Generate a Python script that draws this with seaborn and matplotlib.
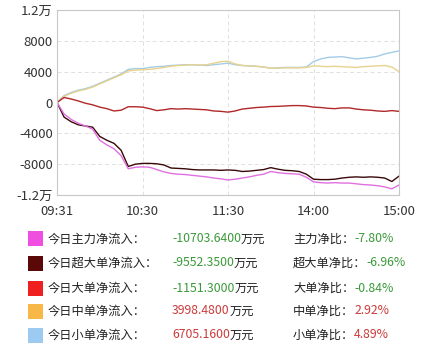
import numpy as np
import pandas as pd
import matplotlib
matplotlib.use("Agg")
import matplotlib.pyplot as plt
from matplotlib.patches import Rectangle
import seaborn as sns

sns.set_theme(style="white")
plt.rcParams['font.family'] = ['Noto Sans CJK SC', 'DejaVu Sans']

# ---- data (minutes since 09:31 trading start, 5-minute readings) ----
minutes = list(range(0, 241, 5))

small = [0, 900, 1300, 1600, 1800, 2100, 2500, 2900, 3300, 3700, 4300, 4400, 4400,
         4550, 4650, 4700, 4800, 4850, 4900, 4900, 4850, 4800, 4900, 5000, 5100,
         4900, 4800, 4750, 4700, 4600, 4450, 4500, 4550, 4550, 4550, 4600, 5300,
         5650, 5850, 5900, 5950, 5800, 5650, 5750, 5850, 6000, 6300, 6500, 6700]
medium = [0, 800, 1200, 1500, 1700, 2000, 2400, 2800, 3200, 3600, 4100, 4200, 4250,
          4300, 4400, 4550, 4700, 4800, 4850, 4900, 4850, 4900, 5100, 5300, 5350,
          5000, 4800, 4750, 4700, 4600, 4450, 4450, 4500, 4500, 4500, 4550, 4750,
          4700, 4650, 4700, 4650, 4600, 4550, 4650, 4700, 4750, 4800, 4600, 4000]
large = [0, 650, 450, 200, -100, -300, -600, -800, -1100, -1000, -550, -550, -600,
         -800, -1050, -950, -800, -850, -800, -850, -900, -950, -1100, -1150, -1250,
         -1100, -850, -750, -650, -600, -520, -500, -450, -400, -400, -450, -600,
         -650, -750, -800, -700, -700, -850, -950, -1000, -1100, -1150, -1050, -1150]
super_large = [0, -1900, -2500, -2900, -3050, -3200, -4400, -4900, -5300, -6200, -8300,
               -8000, -7900, -7900, -7950, -8100, -8500, -8550, -8600, -8700, -8750,
               -8750, -8750, -8800, -8750, -8800, -8950, -8900, -8800, -8700, -8450,
               -8650, -8800, -8850, -8950, -9300, -9950, -10000, -10000, -9950, -9800,
               -9700, -9650, -9700, -9650, -9700, -9800, -10250, -9550]
main_force = [0, -1500, -2200, -2700, -3050, -3450, -4900, -5500, -6000, -6900, -8600,
              -8400, -8350, -8400, -8700, -9000, -9200, -9300, -9350, -9450, -9550,
              -9650, -9800, -9900, -10050, -9950, -9800, -9650, -9450, -9300, -8950,
              -9100, -9200, -9250, -9300, -9700, -10300, -10400, -10450, -10400, -10450,
              -10450, -10550, -10650, -10700, -10800, -10950, -11200, -10700]

x_ticks = [0, 60, 120, 180, 240]
x_labels = ["09:31", "10:30", "11:30", "14:00", "15:00"]
y_ticks = [-12000, -8000, -4000, 0, 4000, 8000, 12000]
y_labels = ["-1.2万", "-8000", "-4000", "0", "4000", "8000", "1.2万"]

legend_labels = ["今日主力净流入：", "今日超大单净流入：", "今日大单净流入：",
                 "今日中单净流入：", "今日小单净流入："]
legend_values = ["-10703.6400", "-9552.3500", "-1151.3000", "3998.4800", "6705.1600"]
value_unit = "万元"
ratio_labels = ["主力净比：", "超大单净比：", "大单净比：", "中单净比：", "小单净比："]
ratio_values = ["-7.80%", "-6.96%", "-0.84%", "2.92%", "4.89%"]

series_names = ["主力", "超大单", "大单", "中单", "小单"]
series_data = [main_force, super_large, large, medium, small]
line_colors = ["#e070e0", "#3a0808", "#b02828", "#e8d28c", "#a4cce6"]
square_colors = ["#f04ee0", "#5a0808", "#ee2020", "#f8b848", "#9ccaf0"]

df = pd.concat([pd.DataFrame({"minute": minutes, "value": v, "series": n})
                for n, v in zip(series_names, series_data)], ignore_index=True)

fig = plt.figure(figsize=(4.37, 3.51), dpi=100)
fig.patch.set_facecolor("white")
ax = fig.add_axes([57 / 437, 1 - 195 / 351, 342 / 437, 185 / 351])

order = ["小单", "中单", "大单", "超大单", "主力"]
palette = dict(zip(series_names, line_colors))
for name in order:
    sns.lineplot(data=df[df.series == name], x="minute", y="value", color=palette[name],
                 linewidth=1.0, ax=ax, legend=False)

ax.set_xlim(0, 240)
ax.set_ylim(-12000, 12000)
ax.set_xticks(x_ticks)
ax.set_xticklabels(x_labels)
ax.set_yticks(y_ticks)
ax.set_yticklabels(y_labels)
ax.set_xlabel("")
ax.set_ylabel("")
ax.tick_params(axis="both", length=0, labelsize=9.5, colors="#333333")
ax.tick_params(axis="x", pad=7)
ax.tick_params(axis="y", pad=3)
for s in ax.spines.values():
    s.set_color("#c8c8c8")
    s.set_linewidth(0.8)
for yv in [-8000, -4000, 4000, 8000]:
    ax.axhline(yv, color="#e0e0e0", linestyle=(0, (4, 3)), linewidth=0.7, zorder=0)
for xv in [60, 120, 180]:
    ax.axvline(xv, color="#e0e0e0", linestyle=(0, (4, 3)), linewidth=0.7, zorder=0)

# legend table
fs = 8.8
row_y = [239, 263, 288, 311, 335]
fig.canvas.draw()
r = fig.canvas.get_renderer()
for i in range(5):
    yf = 1 - row_y[i] / 351
    fig.add_artist(Rectangle((28 / 437, yf - 7.5 / 351), 15 / 437, 15 / 351,
                             transform=fig.transFigure, facecolor=square_colors[i],
                             edgecolor="none"))
    fig.text(48 / 437, yf, legend_labels[i], fontsize=fs, color="#222222", va="center")
    vcol = "#3a9a3a" if legend_values[i].startswith("-") else "#cc3a3a"
    tv = fig.text(172 / 437, yf, legend_values[i], fontsize=fs, color=vcol, va="center")
    bb = tv.get_window_extent(renderer=r)
    fig.text(bb.x1 / fig.bbox.width, yf, value_unit, fontsize=fs, color="#222222",
             va="center")
    tr = fig.text(293 / 437, yf, ratio_labels[i], fontsize=fs, color="#222222", va="center")
    bb2 = tr.get_window_extent(renderer=r)
    fig.text(bb2.x1 / fig.bbox.width, yf, ratio_values[i], fontsize=fs, color=vcol,
             va="center")

fig.savefig("out.png", dpi=100, facecolor="white")
